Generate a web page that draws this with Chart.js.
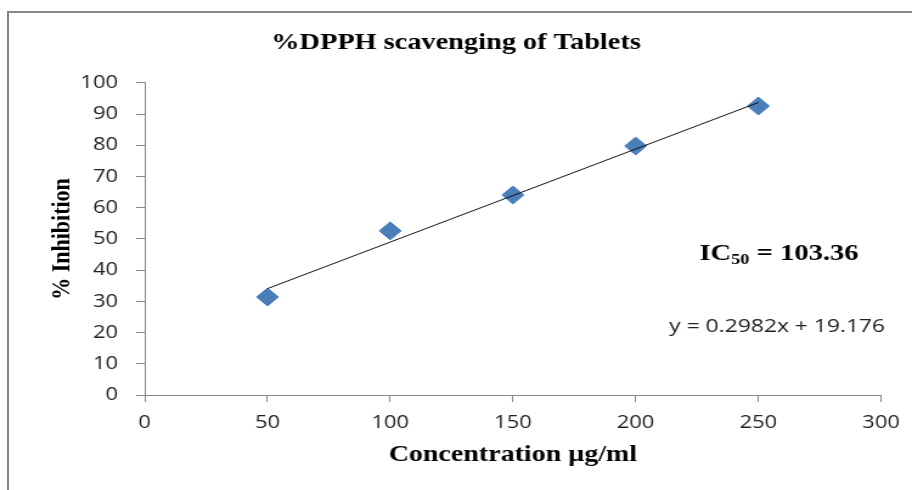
<!DOCTYPE html>
<html>
<head>
<meta charset="utf-8">
<script src="https://cdn.jsdelivr.net/npm/chart.js@4.4.1/dist/chart.umd.min.js"></script>
<style>
  html, body { margin: 0; padding: 0; background: #fff; overflow: hidden; }
  #wrap { position: relative; width: 912px; height: 490px; }
  #frame { position: absolute; left: 7px; top: 11px; width: 930px; height: 500px;
           border-top: 2px solid #878787; border-left: 2px solid #878787; }
  #c { position: absolute; left: 0; top: 0; }
</style>
</head>
<body>
<div id="wrap">
  <div id="frame"></div>
  <!-- drawn narrow then stretched sideways, like the original picture -->
  <canvas id="c" width="750" height="490" style="width:912px;height:490px"></canvas>
</div>
<script>
// concentration (µg/ml) and % inhibition
var conc = [50, 100, 150, 200, 250];
var inhibition = [31.4, 52.6, 64.1, 79.8, 92.6];

// linear trendline end points (y = 0.2982x + 19.176)
var trendX = [50, 250];
var trendY = [34.09, 93.73];

var eqText = "y = 0.2982x + 19.176";
var icText = "103.36";

var serif = "'Liberation Serif', 'Times New Roman', serif";
var sans = "'Open Sans', 'DejaVu Sans', sans-serif";
var axisGray = "#878787";

var notes = {
  id: "notes",
  afterDraw: function(chart) {
    var ctx = chart.ctx;
    var xs = chart.scales.x, ys = chart.scales.y;
    ctx.save();
    ctx.fillStyle = "#000";
    ctx.textBaseline = "alphabetic";
    ctx.textAlign = "left";
    // IC50 label
    var x = xs.getPixelForValue(226);
    var y = ys.getPixelForValue(45.8) + 8;
    ctx.font = "bold 23.5px " + serif;
    ctx.fillText("IC", x, y);
    x += ctx.measureText("IC").width;
    ctx.font = "bold 15px " + serif;
    ctx.fillText("50", x, y + 4);
    x += ctx.measureText("50").width;
    ctx.font = "bold 23.5px " + serif;
    ctx.fillText(" = " + icText, x, y);
    // trendline equation
    ctx.font = "18.8px " + sans;
    ctx.fillStyle = "#222";
    ctx.textBaseline = "middle";
    ctx.fillText(eqText, xs.getPixelForValue(213.7), ys.getPixelForValue(22));
    ctx.restore();
  }
};

var points = [];
for (var i = 0; i < conc.length; i++) { points.push({x: conc[i], y: inhibition[i]}); }
var trend = [];
for (var j = 0; j < trendX.length; j++) { trend.push({x: trendX[j], y: trendY[j]}); }

new Chart(document.getElementById("c"), {
  type: "scatter",
  data: {
    datasets: [
      {
        label: "Linear",
        data: trend,
        showLine: true,
        borderColor: "#111",
        borderWidth: 1,
        pointRadius: 0,
        order: 0
      },
      {
        label: "% Inhibition",
        data: points,
        pointStyle: "rectRot",
        pointRadius: 9,
        backgroundColor: "#4a7ebb",
        borderColor: "#4a7ebb",
        borderWidth: 1,
        order: 1
      }
    ]
  },
  options: {
    responsive: false,
    devicePixelRatio: 1,
    animation: false,
    events: [],
    layout: { padding: { left: 0, right: 0, top: 0, bottom: 0 } },
    plugins: {
      legend: { display: false },
      tooltip: { enabled: false },
      title: {
        display: true,
        text: "%DPPH scavenging of Tablets",
        color: "#000",
        font: { family: serif, size: 23.3, weight: "bold", lineHeight: 1.2 },
        padding: { top: 29, bottom: 26 }
      }
    },
    scales: {
      x: {
        type: "linear",
        min: 0,
        max: 300,
        afterFit: function(s) { s.height = 95; },
        ticks: { stepSize: 50, color: "#222", padding: 10, font: { family: sans, size: 18 } },
        grid: { drawOnChartArea: false, drawTicks: true, tickLength: 7, color: axisGray },
        border: { display: true, color: axisGray, width: 1 },
        title: {
          display: true,
          text: "Concentration µg/ml",
          color: "#000",
          font: { family: serif, size: 23, weight: "bold", lineHeight: 1.2 },
          padding: { top: 0, bottom: 21 }
        }
      },
      y: {
        type: "linear",
        min: 0,
        max: 100,
        afterFit: function(s) { s.width = 119; },
        ticks: { stepSize: 10, color: "#222", padding: 15, font: { family: sans, size: 18 } },
        grid: { drawOnChartArea: false, drawTicks: true, tickLength: 7, color: axisGray },
        border: { display: true, color: axisGray, width: 1 },
        title: {
          display: true,
          text: "% Inhibition",
          color: "#000",
          font: { family: serif, size: 22, weight: "bold", lineHeight: 1.2 },
          padding: { top: 38, bottom: 0 }
        }
      }
    }
  },
  plugins: [notes]
});
</script>
</body>
</html>
